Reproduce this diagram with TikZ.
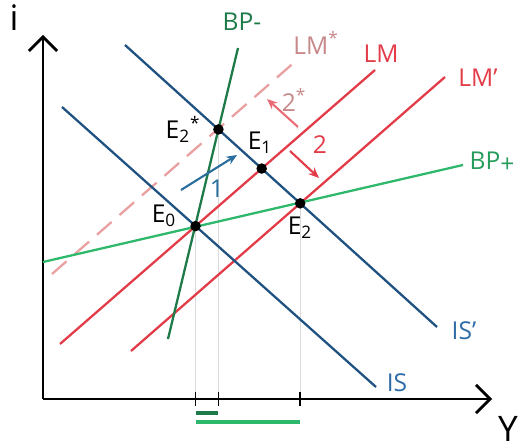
\documentclass[tikz,border=0pt]{standalone}
\usepackage{fontspec}
\setmainfont{Open Sans}
\usepackage{xcolor}
\usepackage{tikz}
\usetikzlibrary{arrows.meta,calc}
\definecolor{isblue}{HTML}{1F5280}
\definecolor{islbl}{HTML}{2E6CA8}
\definecolor{lmred}{HTML}{E23C48}
\definecolor{lmlight}{HTML}{E9A0A0}
\definecolor{bpdark}{HTML}{1E7A48}
\definecolor{bplight}{HTML}{2DB86C}
\definecolor{arblue}{HTML}{2A6E9E}
\definecolor{guide}{HTML}{DADADA}
\newcommand{\lblsize}{\fontsize{14}{16}\selectfont}

\begin{document}
\begin{tikzpicture}[x=0.02cm,y=-0.02cm,
      every node/.style={font=\lblsize,inner sep=0pt},
      curve/.style={line width=1.3pt},
      axisline/.style={line width=1.7pt,-{Straight Barb[length=8pt,width=16pt,line width=1.6pt]}},
      pt/.style={circle,fill=black,minimum size=6pt},
      movearr/.style={line width=1.2pt,-{Stealth[length=6pt,width=5pt]}},
      tickline/.style={line width=1pt},
      barline/.style={line width=2.2pt}
    ]
      \useasboundingbox (0,0) rectangle (520,448);
      % axes
      \coordinate (O) at (43,399);
      \draw[axisline] (O) -- (43,35);
      \draw[axisline] (O) -- (492,399);
      \node[font=\fontsize{20}{22}\selectfont] (ilbl) at (14,18) {i};
      \node[font=\fontsize{20}{22}\selectfont] (ylbl) at (508,429) {Y};
      % curve end points
      \coordinate (isA) at (62,107);   \coordinate (isB) at (376,387);
      \coordinate (ispA) at (125,45);  \coordinate (ispB) at (437,327);
      \coordinate (lmA) at (60,344);   \coordinate (lmB) at (375,70);
      \coordinate (lmpA) at (131,351); \coordinate (lmpB) at (445,77);
      \coordinate (lmsA) at (52,274);  \coordinate (lmsB) at (297,60);
      \coordinate (bpmA) at (168,339); \coordinate (bpmB) at (238,48);
      \coordinate (bppA) at (43,262);  \coordinate (bppB) at (463,165);
      % equilibria
      \coordinate (E0) at (intersection of isA--isB and lmA--lmB);
      \coordinate (E1) at (intersection of ispA--ispB and lmA--lmB);
      \coordinate (E2) at (intersection of ispA--ispB and lmpA--lmpB);
      \coordinate (E2s) at (intersection of ispA--ispB and bpmA--bpmB);
      % guides down to the Y axis
      \foreach \p in {E0,E2s,E2}
        \draw[guide,line width=0.6pt] (\p) -- (\p |- O);
      % curves
      \draw[curve,lmlight,dash pattern=on 11pt off 6pt] (lmsA) -- (lmsB);
      \draw[curve,lmred] (lmA) -- (lmB);
      \draw[curve,lmred] (lmpA) -- (lmpB);
      \draw[curve,bplight] (bppA) -- (bppB);
      \draw[curve,isblue] (isA) -- (isB);
      \draw[curve,isblue] (ispA) -- (ispB);
      \draw[curve,bpdark] (bpmA) -- (bpmB);
      \foreach \p in {E0,E1,E2,E2s}
        \node[pt] (p\p) at (\p) {};
      % curve labels
      \node[text=islbl] (islbl) at (397,383) {IS};
      \node[text=islbl] (isplbl) at (464,331) {IS’};
      \node[text=lmred] (lmlbl) at (381,54) {LM};
      \node[text=lmred] (lmplbl) at (478,78) {LM’};
      \node[text=lmlight!85!black] (lmslbl) at (316,43) {LM\textsuperscript{*}};
      \node[text=bpdark] (bpmlbl) at (242,22) {BP-};
      \node[text=bplight!85!black] (bpplbl) at (492,162) {BP\raisebox{-2pt}{+}};
      % point labels
      \node (l0) at (164,216) {E\textsubscript{0}};
      \node (l1) at (260,143) {E\textsubscript{1}};
      \node (l2) at (300,228) {E\textsubscript{2}};
      \node (l2s) at (183,129) {E\textsubscript{2}\textsuperscript{*}};
      % adjustment arrows
      \coordinate (s1A) at (181,190); \coordinate (s1B) at (237,155);
      \coordinate (s2A) at (290,151); \coordinate (s2B) at (319,178);
      \coordinate (s2sA) at (298,127); \coordinate (s2sB) at (267,99);
      \draw[movearr,arblue] (s1A) -- (s1B);
      \draw[movearr,lmred] (s2A) -- (s2B);
      \draw[movearr,lmred!75!white] (s2sA) -- (s2sB);
      \node[text=arblue] (n1) at (217,189) {1};
      \node[text=lmred] (n2) at (320,145) {2};
      \node[text=lmlight!85!black] (n2s) at (294,100) {2\textsuperscript{*}};
      % ticks and bars under the axis
      \foreach \p in {E0,E2s,E2}
        \draw[tickline] ($(\p |- O)+(0,-7)$) -- ($(\p |- O)+(0,7)$);
      \draw[barline,bpdark] ($(E0 |- O)+(0,14)$) -- ($(E2s |- O)+(0,14)$);
      \draw[barline,bplight,line width=2.6pt] ($(E0 |- O)+(0,23)$) -- ($(E2 |- O)+(0,23)$);
    \end{tikzpicture}
\end{document}
